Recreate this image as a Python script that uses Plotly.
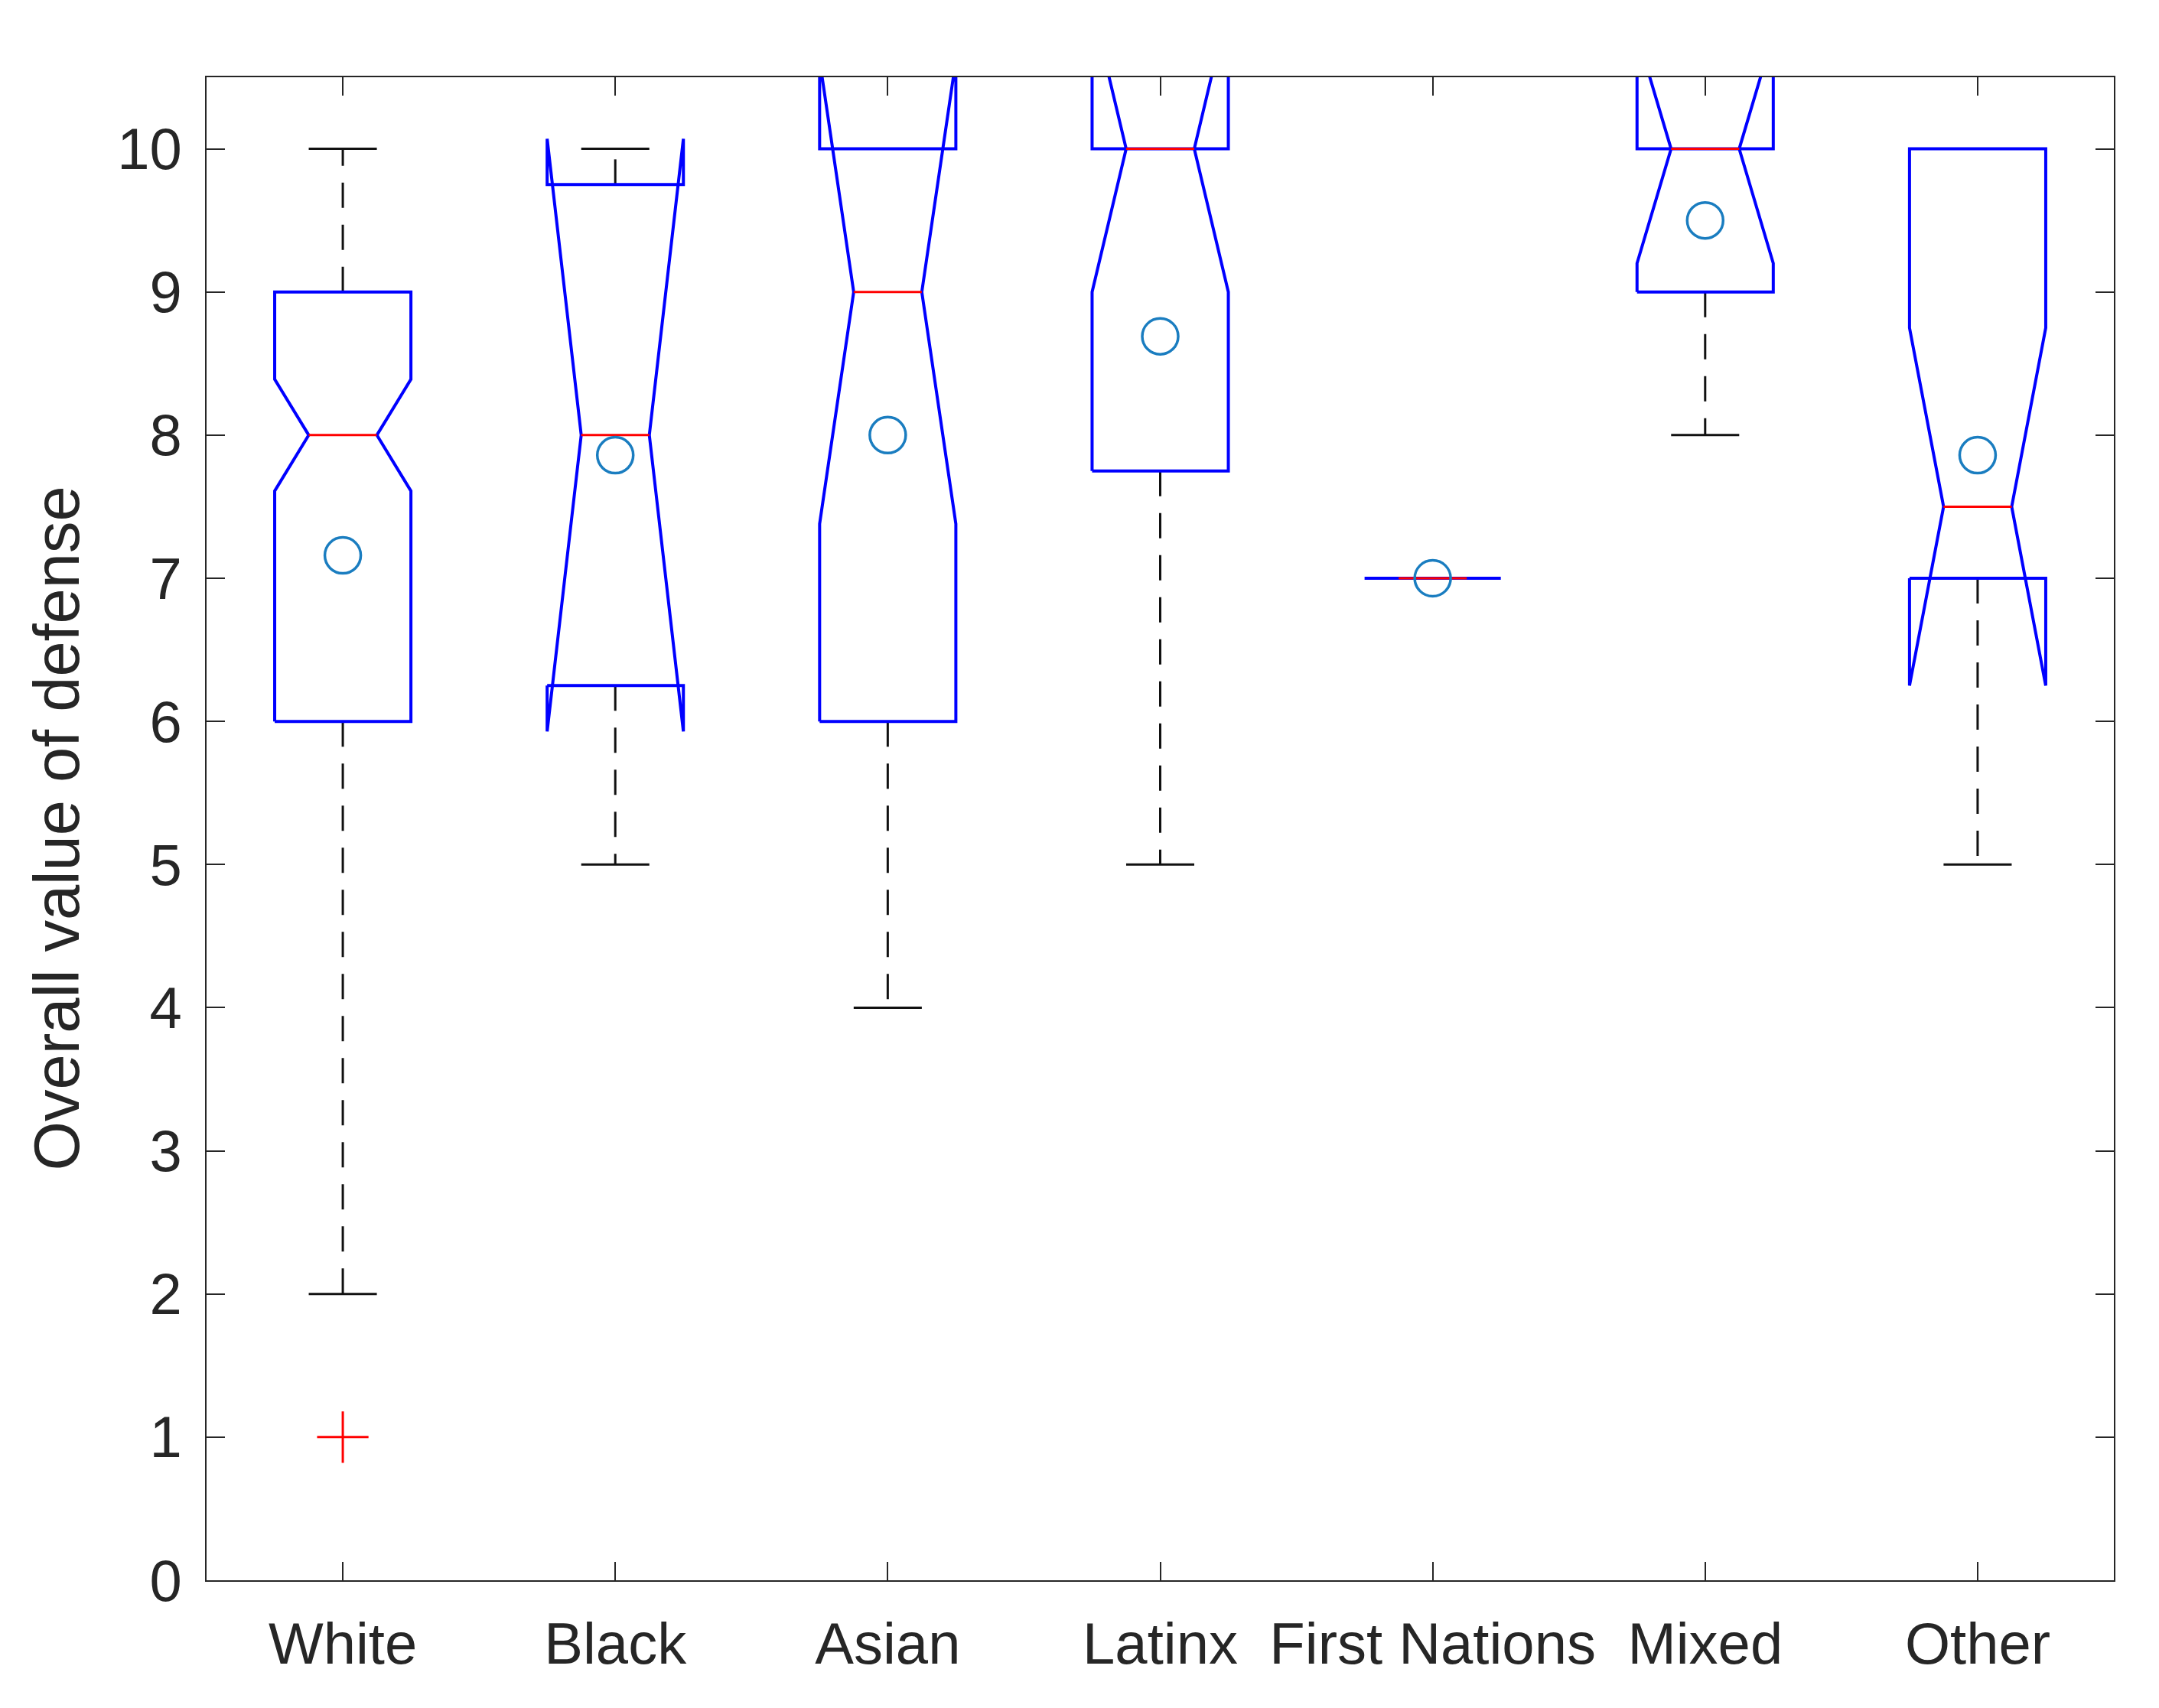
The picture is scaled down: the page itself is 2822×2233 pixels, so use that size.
import plotly.graph_objects as go

categories = ["White", "Black", "Asian", "Latinx", "First Nations", "Mixed", "Other"]
q1 = [6, 6.25, 6, 7.75, 7, 9, 7]
medians = [8, 8, 9, 10, 7, 10, 7.5]
q3 = [9, 9.75, 10, 10, 7, 10, 10]
notch_lo = [7.61, 5.93, 7.38, 9.0, 7, 9.2, 6.25]
notch_hi = [8.39, 10.07, 10.62, 11.0, 7, 10.8, 8.75]
whisker_lo = [2, 5, 4, 5, 7, 8, 5]
whisker_hi = [10, 10, 10, 10, 7, 10, 10]
means = [7.16, 7.86, 8.0, 8.69, 7.0, 9.5, 7.86]
outlier_cat = ["White"]
outlier_val = [1]
y_ticks = list(range(0, 11))

pos = list(range(1, len(categories) + 1))
W = 0.25      # half box width
NW = 0.125    # half width at notch
CW = 0.125    # half cap width

AXC = "#262626"
FONT = "Liberation Sans, Arial, Helvetica, sans-serif"

fig = go.Figure()

# whiskers (dashed)
wx, wy = [], []
for p, a, b, lo, hi in zip(pos, q1, q3, whisker_lo, whisker_hi):
    if hi > b:
        wx += [p, p, None]
        wy += [b, hi, None]
    if lo < a:
        wx += [p, p, None]
        wy += [a, lo, None]
fig.add_trace(go.Scatter(x=wx, y=wy, mode="lines",
                         line=dict(color="#111111", width=3, dash="33px,22px"),
                         hoverinfo="skip", showlegend=False))
# caps
cx, cy = [], []
for p, lo, hi in zip(pos, whisker_lo, whisker_hi):
    cx += [p - CW, p + CW, None, p - CW, p + CW, None]
    cy += [hi, hi, None, lo, lo, None]
fig.add_trace(go.Scatter(x=cx, y=cy, mode="lines",
                         line=dict(color="#111111", width=3),
                         hoverinfo="skip", showlegend=False))

# notched boxes
bx, by = [], []
for p, a, m, b, nl, nh in zip(pos, q1, medians, q3, notch_lo, notch_hi):
    bx += [p - W, p - W, p - NW, p - W, p - W, p + W, p + W, p + NW, p + W, p + W, p - W, None]
    by += [a, nl, m, nh, b, b, nh, m, nl, a, a, None]
fig.add_trace(go.Scatter(x=bx, y=by, mode="lines",
                         line=dict(color="#0000FF", width=4),
                         hoverinfo="skip", showlegend=False))

# medians
mx, my = [], []
for p, m in zip(pos, medians):
    mx += [p - NW, p + NW, None]
    my += [m, m, None]
fig.add_trace(go.Scatter(x=mx, y=my, mode="lines",
                         line=dict(color="#FF0000", width=3),
                         hoverinfo="skip", showlegend=False))

# outliers
ox = [pos[categories.index(c)] for c in outlier_cat]
fig.add_trace(go.Scatter(x=ox, y=outlier_val, mode="markers",
                         marker=dict(symbol="cross-thin-open", size=48, color="#FF0000",
                                     line=dict(color="#FF0000", width=3)),
                         hoverinfo="skip", showlegend=False))

# means
fig.add_trace(go.Scatter(x=pos, y=means, mode="markers",
                         marker=dict(symbol="circle-open", size=47, color="#1A7DC0",
                                     line=dict(color="#1A7DC0", width=3.5)),
                         hoverinfo="skip", showlegend=False))

fig.update_layout(
    width=2806, height=2217,
    margin=dict(l=262, r=51, t=93, b=159, pad=0),
    paper_bgcolor="white", plot_bgcolor="white",
    font=dict(family=FONT, color=AXC, size=76),
    showlegend=False,
)
fig.update_xaxes(range=[0.5, 7.5], tickvals=pos, ticktext=categories,
                 ticks="inside", ticklen=24, tickwidth=2, tickcolor=AXC,
                 showline=True, linecolor=AXC, linewidth=2, mirror="ticks",
                 showgrid=False, zeroline=False, ticklabelstandoff=16,
                 tickfont=dict(family=FONT, size=76, color=AXC))
fig.update_yaxes(range=[0, 10.5], tickvals=y_ticks,
                 ticks="inside", ticklen=24, tickwidth=2, tickcolor=AXC,
                 showline=True, linecolor=AXC, linewidth=2, mirror="ticks",
                 showgrid=False, zeroline=False, ticklabelstandoff=15,
                 tickfont=dict(family=FONT, size=76, color=AXC))
fig.add_annotation(text="Overall value of defense", textangle=-90,
                   xref="paper", yref="paper", x=(74 - 270) / 2493, y=0.5,
                   xanchor="center", yanchor="middle", showarrow=False,
                   font=dict(family=FONT, size=83, color=AXC))

fig.write_html("out.html")
